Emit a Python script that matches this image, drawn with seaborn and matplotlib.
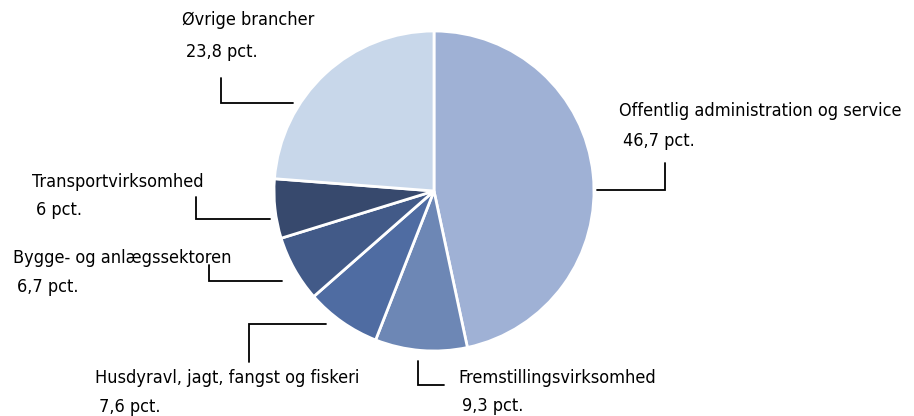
import matplotlib
matplotlib.use("Agg")
import matplotlib.pyplot as plt
import seaborn as sns

# data
sectors = ["Offentlig administration og service", "Fremstillingsvirksomhed",
           "Husdyravl, jagt, fangst og fiskeri", "Bygge- og anlægssektoren",
           "Transportvirksomhed", "Øvrige brancher"]
shares = [46.7, 9.3, 7.6, 6.7, 6.0, 23.8]
share_labels = ["46,7 pct.", "9,3 pct.", "7,6 pct.", "6,7 pct.", "6 pct.", "23,8 pct."]
colors = ["#9fb1d5", "#6d87b5", "#4f6ca2", "#425a88", "#37496d", "#c8d7ea"]

sns.set_theme(style="white")
plt.rcParams['font.family'] = ['DejaVu Sans']
plt.rcParams['font.stretch'] = 'condensed'

W, H = 914, 416
fig = plt.figure(figsize=(W / 100, H / 100), dpi=100)
ax = fig.add_axes([0, 0, 1, 1])

cx, cy, r = 434, H - 191, 160
ax.pie(shares, colors=colors, startangle=90, counterclock=False,
       center=(cx, cy), radius=r,
       wedgeprops=dict(edgecolor="white", linewidth=2))
ax.set_xlim(0, W)
ax.set_ylim(0, H)
ax.set_aspect("equal")
ax.axis("off")

# label layout (pixel coords, y from top): text x, name y, value y, leader polyline
layout = [
    (619, 111, 141, [(597, 190), (665, 190), (665, 163)]),
    (458, 378, 406, [(444, 385), (418, 385), (418, 361)]),
    (95, 378, 407, [(326, 324), (249, 324), (249, 362)]),
    (13, 258, 287, [(282, 281), (209, 281), (209, 265)]),
    (32, 182, 210, [(270, 219), (196, 219), (196, 197)]),
    (182, 20, 52, [(293, 103), (221, 103), (221, 78)]),
]

for name, val, (tx, ny, vy, pts) in zip(sectors, share_labels, layout):
    ax.text(tx, H - ny, name, fontsize=13, ha="left", va="center", color="black",
            fontstretch="condensed")
    ax.text(tx + 4, H - vy, val, fontsize=13, ha="left", va="center", color="black",
            fontstretch="condensed")
    xs = [p[0] for p in pts]
    ys = [H - p[1] for p in pts]
    ax.plot(xs, ys, color="black", linewidth=1.3, solid_joinstyle="miter")

fig.savefig("out.png", dpi=100)
